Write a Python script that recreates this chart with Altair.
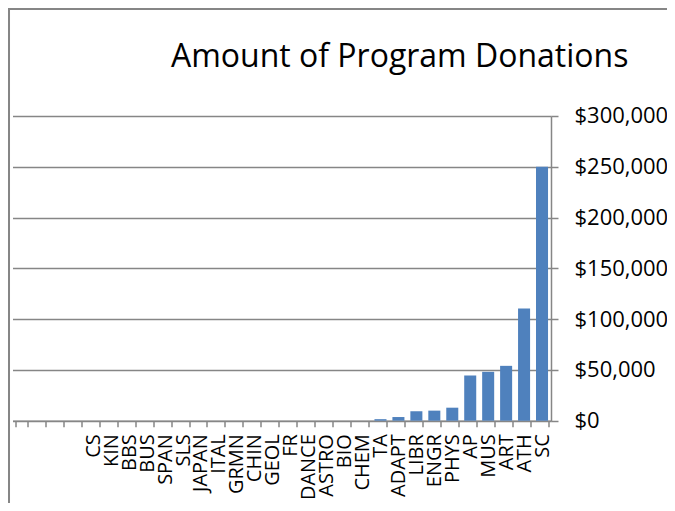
import altair as alt
import pandas as pd

programs = [" ", "  ", "   ", "    ",
            "CS", "KIN", "BBS", "BUS", "SPAN", "SLS", "JAPAN", "ITAL", "GRMN", "CHIN",
            "GEOL", "FR", "DANCE", "ASTRO", "BIO", "CHEM", "TA", "ADAPT", "LIBR", "ENGR",
            "PHYS", "AP", "MUS", "ART", "ATH", "SC"]
amounts = [0, 0, 0, 0,
           0, 0, 0, 0, 0, 0, 0, 0, 0, 0,
           0, 0, 0, 0, 0, 0, 1500, 3600, 9300, 9900,
           12800, 44500, 48100, 54000, 110500, 250000]
y_ticks = [0, 50000, 100000, 150000, 200000, 250000, 300000]
title_text = ["Amount of Program Donations"]

df = pd.DataFrame({"program": programs, "amount": amounts})

GREY = "#868686"
FONT = "Open Sans"

bars = alt.Chart(df).mark_bar(color="#4F81BD").encode(
    x=alt.X("program:N", sort=programs,
            scale=alt.Scale(paddingInner=0.33, paddingOuter=0.165),
            axis=alt.Axis(title=None, labelAngle=270, labelFont=FONT, labelFontSize=20,
                          labelColor="black", domainColor=GREY, domainWidth=1.5,
                          tickColor=GREY, tickWidth=1.5, tickSize=6, tickBand="extent",
                          labelPadding=7, grid=False)),
    y=alt.Y("amount:Q", scale=alt.Scale(domain=[0, 300000], nice=False),
            axis=alt.Axis(title=None, orient="right", values=y_ticks, format="$,.0f",
                          labelFont=FONT, labelFontSize=22, labelColor="black",
                          domainColor=GREY, domainWidth=1.5, tickColor=GREY, tickWidth=1.5,
                          tickSize=7, labelPadding=16, grid=True, gridColor=GREY,
                          gridWidth=1.5)),
)

one = pd.DataFrame({"t": title_text})

border = alt.Chart(one).mark_rect(
    fillOpacity=0, stroke=GREY, strokeWidth=2
).encode(x=alt.value(-3.5), y=alt.value(-107), x2=alt.value(700), y2=alt.value(700))

title = alt.Chart(one).mark_text(
    align="left", baseline="alphabetic", font=FONT, fontSize=32, color="black"
).encode(text="t:N", x=alt.value(158.5), y=alt.value(-49))

chart = alt.layer(border, bars, title).properties(
    width=538.5, height=304.7,
    autosize=alt.AutoSizeParams(type="none"),
    padding={"left": 4.5, "top": 108, "right": 116, "bottom": 82},
).configure_view(stroke=None)

chart.save("out.html", embed_options={"renderer": "svg", "actions": False})
